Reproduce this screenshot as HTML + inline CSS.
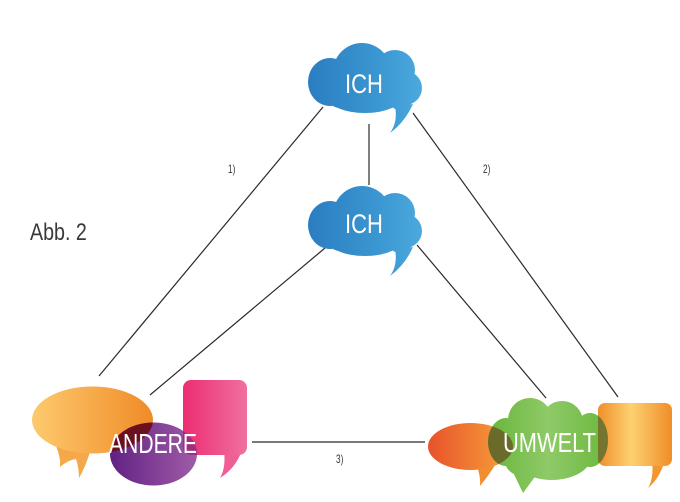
<!DOCTYPE html>
<html>
<head>
<meta charset="utf-8">
<style>
  html,body{margin:0;padding:0;background:#fff;}
  body{width:680px;height:502px;overflow:hidden;}
  svg{display:block;}
  text{font-family:"Liberation Sans", sans-serif;}
</style>
</head>
<body>
<svg width="680" height="502" viewBox="0 0 680 502" xmlns="http://www.w3.org/2000/svg">
  <defs>
    <linearGradient id="gBlue" gradientUnits="userSpaceOnUse" x1="308" y1="0" x2="422" y2="0">
      <stop offset="0" stop-color="#2a7dc1"/>
      <stop offset="0.6" stop-color="#3a96d0"/>
      <stop offset="1" stop-color="#4ca9de"/>
    </linearGradient>
    <linearGradient id="gGreen" gradientUnits="userSpaceOnUse" x1="488" y1="0" x2="608" y2="0">
      <stop offset="0" stop-color="#68b53a"/>
      <stop offset="0.5" stop-color="#8fca68"/>
      <stop offset="1" stop-color="#6cb83e"/>
    </linearGradient>
    <linearGradient id="gOrL" gradientUnits="userSpaceOnUse" x1="32" y1="0" x2="153" y2="0">
      <stop offset="0" stop-color="#fdca6e"/>
      <stop offset="1" stop-color="#f08b27"/>
    </linearGradient>
    <linearGradient id="gPurple" gradientUnits="userSpaceOnUse" x1="110" y1="0" x2="197" y2="0">
      <stop offset="0" stop-color="#612182"/>
      <stop offset="1" stop-color="#a05ca8"/>
    </linearGradient>
    <linearGradient id="gPink" gradientUnits="userSpaceOnUse" x1="183" y1="0" x2="247" y2="0">
      <stop offset="0" stop-color="#ec2d72"/>
      <stop offset="1" stop-color="#f070a0"/>
    </linearGradient>
    <linearGradient id="gOrR" gradientUnits="userSpaceOnUse" x1="428" y1="0" x2="513" y2="0">
      <stop offset="0" stop-color="#e8522a"/>
      <stop offset="1" stop-color="#f6a43a"/>
    </linearGradient>
    <linearGradient id="gOrRect" gradientUnits="userSpaceOnUse" x1="598" y1="0" x2="672" y2="0">
      <stop offset="0" stop-color="#f08f2a"/>
      <stop offset="0.45" stop-color="#fdd170"/>
      <stop offset="1" stop-color="#f08d28"/>
    </linearGradient>

    <g id="blueCloud">
      <ellipse cx="330" cy="82" rx="22" ry="24"/>
      <circle cx="362" cy="72" r="29"/>
      <circle cx="395" cy="70" r="20"/>
      <circle cx="405" cy="88" r="17"/>
      <ellipse cx="365" cy="96" rx="38" ry="17"/>
      <circle cx="340" cy="95" r="13"/>
      <circle cx="400" cy="98" r="12"/>
      <path d="M395,106 Q398,122 390,133 Q405,122 413,104 Z"/>
    </g>

    <clipPath id="cpGreen">
      <ellipse cx="506" cy="442" rx="18" ry="24"/>
      <circle cx="530" cy="420" r="22"/>
      <circle cx="562" cy="422" r="21"/>
      <ellipse cx="590" cy="440" rx="18" ry="27"/>
      <ellipse cx="552" cy="455" rx="40" ry="25"/>
      <circle cx="522" cy="458" r="18"/>
      <path d="M511,468 L523,493 L537,474 Z"/>
    </clipPath>
    <clipPath id="cpPurple">
      <ellipse cx="153.5" cy="454" rx="43.5" ry="31.5"/>
    </clipPath>
  </defs>

  <!-- connector lines -->
  <g stroke="#2a2a2a" stroke-width="1.2" fill="none">
    <line x1="323" y1="107" x2="99" y2="376"/>
    <line x1="413" y1="113" x2="618" y2="397"/>
    <line x1="369" y1="124" x2="369" y2="185"/>
    <line x1="325" y1="248" x2="150" y2="395"/>
    <line x1="417" y1="245" x2="546" y2="398"/>
  </g>
  <line x1="252" y1="442" x2="425" y2="442" stroke="#666" stroke-width="1.7"/>

  <!-- blue clouds -->
  <use href="#blueCloud" fill="url(#gBlue)"/>
  <use href="#blueCloud" fill="url(#gBlue)" transform="translate(0,143)"/>

  <text transform="translate(364,93) scale(0.83,1)" text-anchor="middle" font-size="26.5" fill="#fff">ICH</text>
  <text transform="translate(364,233) scale(0.83,1)" text-anchor="middle" font-size="26.5" fill="#fff">ICH</text>

  <!-- labels -->
  <text transform="translate(30,240) scale(0.82,1)" font-size="24" fill="#3a3a3a">Abb. 2</text>
  <text transform="translate(228,173) scale(0.72,1)" font-size="11.5" fill="#333">1)</text>
  <text transform="translate(483,173) scale(0.72,1)" font-size="11.5" fill="#333">2)</text>
  <text transform="translate(336,463) scale(0.72,1)" font-size="11.5" fill="#333">3)</text>

  <!-- LEFT GROUP: ANDERE -->
  <path d="M56,446 Q61,458 60,467 Q68,460 76,459 Q79,468 79,478 Q85,468 90,452 Z" fill="#f5a84a"/>
  <ellipse cx="92.5" cy="420" rx="60.5" ry="33.5" fill="url(#gOrL)"/>
  <ellipse cx="153.5" cy="454" rx="43.5" ry="31.5" fill="url(#gPurple)"/>
  <!-- overlap orange/purple -->
  <ellipse cx="92.5" cy="420" rx="60.5" ry="33.5" fill="#6c1020" clip-path="url(#cpPurple)"/>
  <!-- pink bubble -->
  <path d="M224,450 Q226,468 220,478 Q236,468 242,450 Z" fill="#ef5f95"/>
  <rect x="183" y="380" width="64" height="75" rx="8" ry="8" fill="url(#gPink)"/>
  <!-- overlap pink/purple -->
  <rect x="183" y="380" width="64" height="75" rx="8" ry="8" fill="#a02d7e" clip-path="url(#cpPurple)"/>
  <text transform="translate(153,453) scale(0.755,1)" text-anchor="middle" font-size="28" fill="#fff">ANDERE</text>

  <!-- RIGHT GROUP: UMWELT -->
  <path d="M476,464 Q481,476 480,486 Q490,474 498,460 Z" fill="#f08f30"/>
  <ellipse cx="470.5" cy="446.5" rx="42.5" ry="23.5" fill="url(#gOrR)"/>
  <path d="M652,460 Q654,478 648,488 Q660,478 665,460 Z" fill="#f29630"/>
  <rect x="598" y="403" width="74" height="63" rx="7" ry="7" fill="url(#gOrRect)"/>
  <!-- green cloud -->
  <rect x="480" y="390" width="140" height="110" fill="url(#gGreen)" clip-path="url(#cpGreen)"/>
  <!-- overlaps -->
  <g clip-path="url(#cpGreen)">
    <ellipse cx="470.5" cy="446.5" rx="42.5" ry="23.5" fill="#6a6a2a"/>
    <rect x="598" y="403" width="74" height="63" rx="7" ry="7" fill="#757530"/>
  </g>
  <text transform="translate(549.5,452) scale(0.78,1)" text-anchor="middle" font-size="28" fill="#fff">UMWELT</text>
</svg>
</body>
</html>
